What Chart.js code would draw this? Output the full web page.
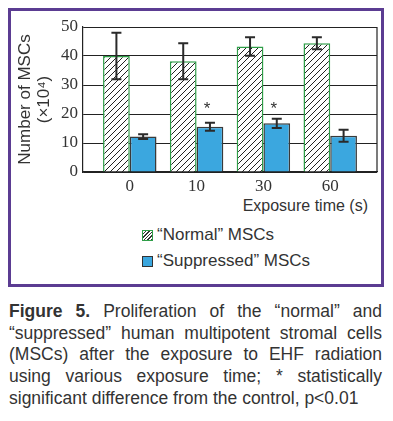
<!DOCTYPE html>
<html>
<head>
<meta charset="utf-8">
<script src="https://cdn.jsdelivr.net/npm/chart.js@4"></script>
<style>
  html, body { margin: 0; padding: 0; background: #fff; }
  body { width: 393px; height: 421px; position: relative; overflow: hidden; font-family: "Liberation Sans", Arial, sans-serif; }
  .frame { position: absolute; left: 8px; top: 8px; width: 370px; height: 273px; border: 3px solid #5b3c92; }
  .chart-box { position: absolute; left: 0; top: 0; width: 393px; height: 195px; }
  .xtitle { position: absolute; right: 25px; top: 197px; font-size: 16px; color: #333; }
  .legend { position: absolute; left: 142px; top: 225px; font-size: 17px; color: #333; }
  .legend div { height: 26px; line-height: 20px; white-space: nowrap; }
  .sw { display: inline-block; width: 9px; height: 9px; vertical-align: -1px; margin-right: 4px; }
  .sw.normal { border: 1px solid #2f9e48; background: repeating-linear-gradient(135deg, #fff 0 1.5px, #333 1.5px 2.5px); }
  .sw.supp { border: 1px solid #333; background: #3ba7df; }
  .caption { position: absolute; left: 9px; top: 301px; width: 373px; font-size: 17.5px; line-height: 21.7px; color: #333; }
  .caption div { white-space: nowrap; text-align: justify; text-align-last: justify; }
  .caption div.last { text-align-last: left; }
</style>
</head>
<body>
<div class="frame"></div>
<div class="chart-box"><canvas id="myChart"></canvas></div>
<div class="xtitle">Exposure time (s)</div>
<div class="legend">
  <div><span class="sw normal"></span>“Normal” MSCs</div>
  <div><span class="sw supp"></span>“Suppressed” MSCs</div>
</div>
<div class="caption">
  <div><b>Figure 5.</b> Proliferation of the “normal” and</div>
  <div>“suppressed” human multipotent stromal cells</div>
  <div>(MSCs) after the exposure to EHF radiation</div>
  <div>using various exposure time; * statistically</div>
  <div class="last">significant difference from the control, p&lt;0.01</div>
</div>

<script>
// data
const exposure = ['0', '10', '30', '60'];
const normal = [40, 38.2, 43.3, 44.4];
const normalErr = [8, 6.2, 3.2, 2.1];
const suppressed = [12.2, 15.6, 16.8, 12.5];
const suppressedErr = [0.8, 1.4, 1.6, 2.1];
const significant = [false, true, true, false];
const yTicks = [0, 10, 20, 30, 40, 50];
const starLevel = 22.6;

// hatch pattern for the "normal" bars
function hatch() {
  const c = document.createElement('canvas');
  c.width = 6; c.height = 6;
  const g = c.getContext('2d');
  g.fillStyle = '#fff';
  g.fillRect(0, 0, 6, 6);
  g.strokeStyle = '#222';
  g.lineWidth = 1;
  g.beginPath();
  g.moveTo(-1, 7); g.lineTo(7, -1);
  g.moveTo(-1, 1); g.lineTo(1, -1);
  g.moveTo(5, 7); g.lineTo(7, 5);
  g.stroke();
  return g.createPattern(c, 'repeat');
}

const ctx = document.getElementById('myChart').getContext('2d');

// error bars + asterisks, placed through the chart scales
const errorBars = {
  id: 'errorBars',
  afterDatasetsDraw(chart) {
    const { ctx, scales: { y } } = chart;
    const errs = [normalErr, suppressedErr];
    ctx.save();
    ctx.strokeStyle = '#2a2a2a';
    ctx.lineWidth = 2;
    chart.data.datasets.forEach((ds, di) => {
      const meta = chart.getDatasetMeta(di);
      meta.data.forEach((bar, i) => {
        const v = ds.data[i].y;
        const e = errs[di][i];
        const top = y.getPixelForValue(v + e);
        const bot = y.getPixelForValue(v - e);
        const x = bar.x;
        ctx.beginPath();
        ctx.moveTo(x, top); ctx.lineTo(x, bot);
        ctx.moveTo(x - 5, top); ctx.lineTo(x + 5, top);
        ctx.moveTo(x - 5, bot); ctx.lineTo(x + 5, bot);
        ctx.stroke();
      });
    });
    // significance marks
    ctx.fillStyle = '#333';
    ctx.font = '17px "Liberation Sans", Arial, sans-serif';
    ctx.textAlign = 'center';
    ctx.textBaseline = 'middle';
    const meta = chart.getDatasetMeta(1);
    significant.forEach((s, i) => {
      if (s) ctx.fillText('*', meta.data[i].x - 3, y.getPixelForValue(starLevel) + 3);
    });
    ctx.restore();
  }
};

// right edge of the plot box
const rightEdge = {
  id: 'rightEdge',
  beforeDatasetsDraw(chart) {
    const { ctx, chartArea: a } = chart;
    ctx.save();
    ctx.strokeStyle = '#222';
    ctx.lineWidth = 1.2;
    ctx.beginPath();
    ctx.moveTo(a.right, a.top);
    ctx.lineTo(a.right, a.bottom);
    ctx.stroke();
    ctx.restore();
  }
};

const myChart = new Chart(ctx, {
  type: 'bar',
  data: {
    datasets: [{
      label: '“Normal” MSCs',
      data: normal.map((v, i) => ({ x: i, y: v })),
      backgroundColor: hatch(),
      borderColor: '#2f9e48',
      borderWidth: 1.5
    },
    {
      label: '“Suppressed” MSCs',
      data: suppressed.map((v, i) => ({ x: i, y: v })),
      backgroundColor: '#3ba7df',
      borderColor: '#3a3a3a',
      borderWidth: 1.5
    }]
  },
  options: {
    animation: false,
    responsive: true,
    maintainAspectRatio: false,
    categoryPercentage: 0.8,
    barPercentage: 1.0,
    layout: { padding: { left: 0, right: 16, top: 27, bottom: 0 } },
    scales: {
      x: {
        type: 'linear',
        offset: false,
        min: -0.7,
        max: 3.7,
        afterBuildTicks: (s) => { s.ticks = exposure.map((c, i) => ({ value: i })); },
        afterFit: (s) => { s.height = 23; },
        ticks: {
          callback: (v) => exposure[v],
          color: '#333',
          padding: 4,
          maxRotation: 0,
          font: { family: '"Liberation Serif", "Times New Roman", serif', size: 17 }
        },
        grid: { display: false, drawTicks: false, offset: false },
        border: { color: '#222', width: 1.2 }
      },
      y: {
        min: 0,
        max: 50,
        afterBuildTicks: (s) => { s.ticks = yTicks.map(v => ({ value: v })); },
        afterFit: (s) => { s.width = 83; },
        ticks: {
          color: '#333',
          padding: 5,
          font: { family: '"Liberation Serif", "Times New Roman", serif', size: 17 }
        },
        grid: { color: '#222', lineWidth: 1, drawTicks: false },
        border: { color: '#222', width: 1.2 },
        title: {
          display: true,
          text: ['Number of MSCs', '(×10⁴)'],
          color: '#333',
          padding: { top: 16, bottom: 0 },
          font: { family: '"Liberation Sans", Arial, sans-serif', size: 17, lineHeight: 1.1 }
        }
      }
    },
    plugins: {
      legend: { display: false },
      tooltip: { enabled: false }
    }
  },
  plugins: [rightEdge, errorBars]
});
</script>
</body>
</html>
